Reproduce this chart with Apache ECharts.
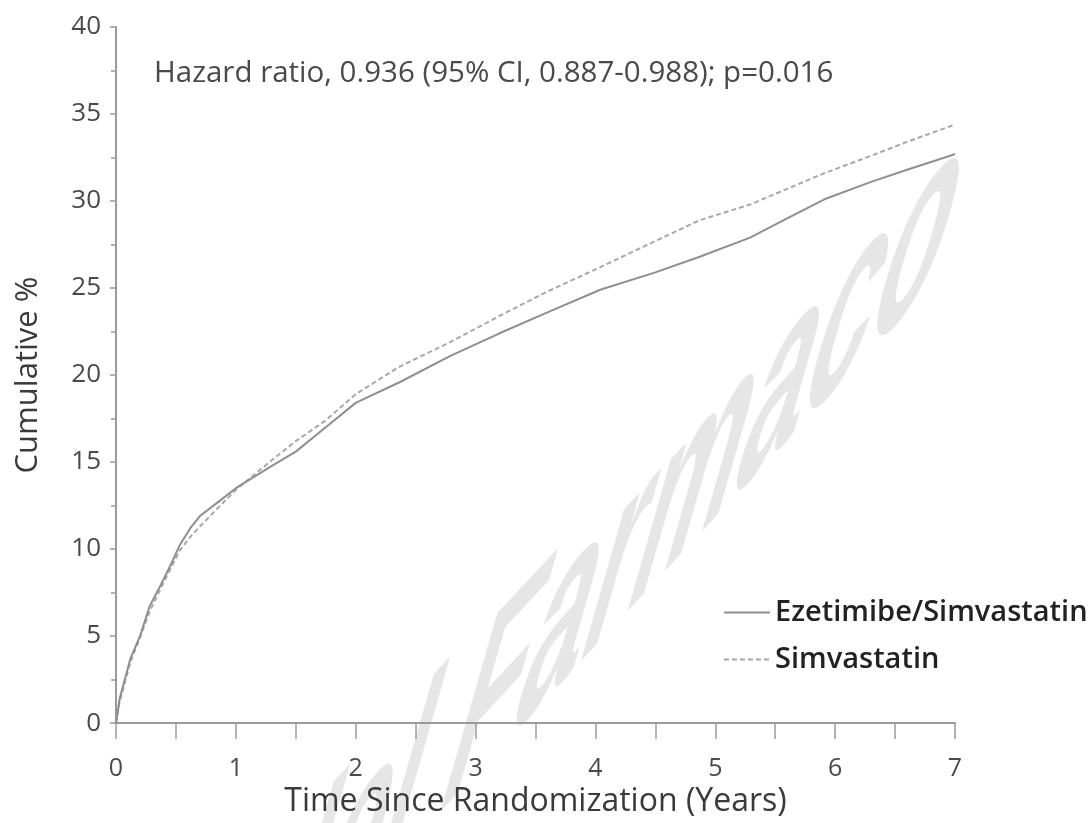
<!DOCTYPE html>
<html>
<head>
<meta charset="utf-8">
<script src="https://cdn.jsdelivr.net/npm/echarts@6/dist/echarts.min.js"></script>
<style>
html,body{margin:0;padding:0;background:#fff;}
#chart{width:1091px;height:823px;}
</style>
</head>
<body>
<div id="chart"></div>
<script>
// ---- data ----
const years = [0, 0.03, 0.12, 0.2, 0.28, 0.37, 0.45, 0.53, 0.62, 0.7, 0.87, 1.0, 1.28, 1.5, 1.75, 2.0, 2.37, 2.79, 3.2, 3.6, 4.04, 4.5, 4.87, 5.29, 5.6, 5.91, 6.3, 6.6, 6.96, 7.0];
const ezetimibeSimvastatin = [0, 1.4, 3.7, 5.0, 6.7, 7.9, 9.0, 10.2, 11.2, 11.9, 12.8, 13.5, 14.7, 15.6, 17.0, 18.4, 19.6, 21.1, 22.4, 23.6, 24.9, 25.9, 26.8, 27.9, 29.0, 30.1, 31.1, 31.8, 32.6, 32.7];
const simvastatin = [0, 1.2, 3.5, 4.9, 6.4, 7.7, 8.8, 9.9, 10.7, 11.3, 12.5, 13.4, 15.0, 16.2, 17.4, 18.9, 20.5, 21.9, 23.4, 24.8, 26.2, 27.7, 28.9, 29.8, 30.7, 31.6, 32.6, 33.4, 34.3, 34.4];
const seriesNames = ['Ezetimibe/Simvastatin', 'Simvastatin'];
const xTitle = 'Time Since Randomization (Years)';
const yTitle = 'Cumulative %';
const annotation = 'Hazard ratio, 0.936 (95% CI, 0.887-0.988); p=0.016';
const watermark = 'del Farmaco';

const FONT = '"Open Sans", "Noto Sans", sans-serif';

// watermark transform (skewed rotated text): decompose a 2x2 matrix into rotation-scale-rotation
const wmAng = 47 * Math.PI / 180, wmTilt = 16 * Math.PI / 180, k1 = 1.76, k2 = 3.0;
const ma = k1 * Math.cos(wmAng), mc = -k1 * Math.sin(wmAng);
const mb = -k2 * Math.sin(wmTilt), md = k2 * Math.cos(wmTilt);
const E = (ma + md) / 2, F = (ma - md) / 2, G = (mc + mb) / 2, H = (mc - mb) / 2;
const Q = Math.hypot(E, H), R = Math.hypot(F, G);
const s1 = Q + R, s2 = Q - R;
const a1 = Math.atan2(G, F), a2 = Math.atan2(H, E);
const th = (a2 - a1) / 2, ph = (a2 + a1) / 2;
const preW = 172, baseOff = -14; // local offset of "F" baseline start (100px bold font)
const wmX = 425 - (preW * ma + baseOff * mb), wmY = 845 - (preW * mc + baseOff * md);

const pairs = (ys) => years.map((t, i) => [t, ys[i]]);

const chart = echarts.init(document.getElementById('chart'));
chart.setOption({
  animation: false,
  backgroundColor: '#fff',
  grid: { left: 116, right: 136, top: 27, bottom: 99 },
  xAxis: {
    type: 'value', min: 0, max: 7, interval: 1,
    name: xTitle, nameLocation: 'middle', nameGap: 58,
    nameTextStyle: { fontSize: 32, color: '#3a3a3a', fontFamily: FONT },
    axisLine: { show: true, lineStyle: { color: '#9a9a9a', width: 2 } },
    axisTick: { show: true, length: 16, lineStyle: { color: '#9a9a9a', width: 1.5 } },
    minorTick: { show: true, splitNumber: 2, length: 16, lineStyle: { color: '#9a9a9a', width: 1.5 } },
    splitLine: { show: false },
    axisLabel: { fontSize: 25, color: '#4a4a4a', margin: 33, fontFamily: FONT }
  },
  yAxis: {
    type: 'value', min: 0, max: 40, interval: 5,
    name: yTitle, nameLocation: 'middle', nameGap: 72,
    nameTextStyle: { fontSize: 31, color: '#3a3a3a', fontFamily: FONT },
    axisLine: { show: true, lineStyle: { color: '#9a9a9a', width: 2 } },
    axisTick: { show: true, length: 6, lineStyle: { color: '#9a9a9a', width: 1.5 } },
    minorTick: { show: true, splitNumber: 2, length: 5, lineStyle: { color: '#9a9a9a', width: 1.5 } },
    splitLine: { show: false },
    axisLabel: { fontSize: 26, color: '#4a4a4a', margin: 15, fontFamily: FONT }
  },
  legend: {
    orient: 'vertical', left: 718, top: 592,
    itemWidth: 46, itemHeight: 14, itemGap: 16,
    data: seriesNames,
    itemStyle: { opacity: 0 },
    textStyle: { fontSize: 29, color: '#222', fontWeight: 600, fontFamily: FONT, lineHeight: 31 }
  },
  graphic: [
    {
      type: 'group', x: wmX, y: wmY, rotation: -ph, scaleX: s1, scaleY: s2, z: -10, silent: true,
      children: [{
        type: 'text', x: 0, y: 0, rotation: -th,
        style: { text: watermark, fontSize: 100, fontWeight: 'bold', fontFamily: '"Liberation Sans", Arial, sans-serif',
                 fill: '#e6e6e6', textAlign: 'left', textVerticalAlign: 'bottom' }
      }]
    },
    {
      type: 'text', x: 154, y: 74, z: 10,
      style: { text: annotation, fontSize: 29.5, fontFamily: FONT, fill: '#4a4a4a',
               textAlign: 'left', textVerticalAlign: 'middle' }
    }
  ],
  series: [
    {
      name: seriesNames[0], type: 'line', data: pairs(ezetimibeSimvastatin),
      symbol: 'none', z: 3,
      lineStyle: { color: '#8f8f8f', width: 2 },
      itemStyle: { color: '#8f8f8f' }
    },
    {
      name: seriesNames[1], type: 'line', data: pairs(simvastatin),
      symbol: 'none', z: 2,
      lineStyle: { color: '#a8a8a8', width: 2, type: [5, 3] },
      itemStyle: { color: '#a8a8a8' }
    }
  ]
});
</script>
</body>
</html>
